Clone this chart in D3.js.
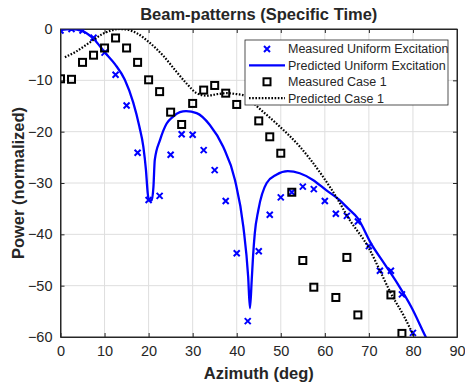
<!DOCTYPE html>
<html>
  <head>
    <meta charset="utf-8">
    <title>Beam-patterns</title>
    <style>
      body { margin: 0; background: #fff; }
      svg text { font-family: "Liberation Sans", Arial, Helvetica, sans-serif; fill: #262626; }
    </style>
  </head>
  <body>
    <script src="https://d3js.org/d3.v7.min.js"></script>
    <svg id="chart" width="465" height="388"></svg>
    <script>
      // measured points, every 2.5 deg
      const measuredAz = d3.range(0, 80.01, 2.5)
      const measuredUniform = [
        -0.3, 0, -0.3, -1.7, -4.6, -8.9, -14.9, -24.1, -33.3, -32.5, -24.5,
        -20.5, -20.6, -23.6, -27.5, -33.5, -43.7, -56.9, -43.3, -36.2, -32.8,
        -31.8, -30.7, -31.2, -33.5, -36.0, -36.4, -37.5, -42.3, -47.1, -47.1,
        -51.7, -59.2
      ]
      // case 1 measurements (some are off the bottom of the plot / missing)
      const case1Az = [0, 2.5, 5, 7.5, 10, 12.5, 15, 17.5, 20, 22.5, 25, 27.5, 30, 32.5, 35, 37.5, 40,
        45, 47.5, 50, 52.5, 55, 57.5, 62.5, 65, 67.5, 75, 77.5]
      const case1Measured = [-9.7, -9.8, -6.5, -5.1, -3.7, -1.75, -3.7, -6.5, -9.9, -12.2, -16.2, -18.6,
        -14.5, -11.9, -11.0, -12.5, -14.7, -17.9, -21.0, -24.2, -31.8, -45.1, -50.3, -52.3, -44.5,
        -55.7, -51.8, -59.3]

      // predicted curves
      const uniformAz = [0, 2.5, 5, 7.5, 10, 12.4, 14.6, 16.5, 17.9, 18.8, 19.4, 19.8, 20.1, 20.7,
        21.1, 21.4, 22.6, 24.1, 25.5, 27.1, 28.5, 30.9, 33.9, 36.9, 39.6, 41.5, 42.6, 43, 43.4, 43.7,
        44.1, 44.9, 46.8, 49, 51.6, 54.3, 57.3, 60.3, 63.3, 65.2, 67.5, 70.5, 73.5, 76.5, 79.6, 82.8, 83.2]
      const uniformPredicted = [-0.2, 0, -0.4, -1.9, -4.5, -6.9, -9.9, -14.3, -19, -22.9, -27.5,
        -32, -33.4, -33.4, -30.7, -25.5, -21.6, -18.4, -17.1, -16.2, -16.0, -16.4, -18.7, -22.9,
        -29.4, -38.5, -48.3, -54.4, -49, -44.4, -39.8, -35.3, -30.0, -28.4, -27.7, -28.1, -29.4,
        -31.4, -33.3, -34.9, -36.9, -41.8, -45.7, -49.6, -54.1, -59.8, -60.5]

      const case1PredAz = [1, 3.5, 6.5, 9.5, 11.5, 13.5, 15.5, 17.5, 20, 23.3, 26.3, 28.6, 30.9,
        33.2, 35.5, 37.8, 40.1, 42, 44.5, 49, 54.3, 59.6, 63, 65.2, 70, 72.8, 75, 78, 79.9, 80.4]
      const case1Predicted = [-5.5, -4.4, -2.7, -1.0, -0.3, 0, -0.2, -0.9, -2.5, -5.2, -8.3, -10.6,
        -12.5, -13.0, -12.7, -12.5, -12.7, -13.0, -15.0, -18.4, -22.9, -28.8, -33.3, -36.6, -42.7,
        -47.6, -51.5, -56, -59.3, -60.2]

      const xTicks = d3.range(0, 91, 10)
      const yTicks = d3.range(-60, 1, 10)

      const legendLabels = ['Measured Uniform Excitation', 'Predicted Uniform Excitation',
        'Measured Case 1', 'Predicted Case 1']

      const svg = d3.select('#chart')
      const plotL = 60.5, plotR = 457, plotT = 29, plotB = 337
      const ink = '#262626'

      const x = d3.scaleLinear().domain([0, 90]).range([plotL, plotR])
      const y = d3.scaleLinear().domain([-60, 0]).range([plotB, plotT])

      svg.append('defs').append('clipPath').attr('id', 'plotclip')
        .append('rect').attr('x', plotL).attr('y', plotT).attr('width', plotR - plotL).attr('height', plotB - plotT)

      // grid
      const grid = svg.append('g').attr('stroke', '#dedede').attr('stroke-width', 1)
      grid.selectAll('.gx').data(xTicks.slice(1, -1)).join('line').attr('class', 'gx')
        .attr('x1', d => x(d)).attr('x2', d => x(d)).attr('y1', plotT).attr('y2', plotB)
      grid.selectAll('.gy').data(yTicks.slice(1, -1)).join('line').attr('class', 'gy')
        .attr('y1', d => y(d)).attr('y2', d => y(d)).attr('x1', plotL).attr('x2', plotR)

      // axes with inward ticks on all four sides
      const tl = 4
      svg.append('g').attr('transform', `translate(0,${plotB})`)
        .call(d3.axisBottom(x).tickValues(xTicks).tickSizeInner(-tl).tickSizeOuter(0).tickPadding(9))
      svg.append('g').attr('transform', `translate(0,${plotT})`)
        .call(d3.axisTop(x).tickValues(xTicks).tickSizeInner(-tl).tickSizeOuter(0).tickFormat(''))
      svg.append('g').attr('transform', `translate(${plotL},0)`)
        .call(d3.axisLeft(y).tickValues(yTicks).tickSizeInner(-tl).tickSizeOuter(0).tickPadding(8))
      svg.append('g').attr('transform', `translate(${plotR},0)`)
        .call(d3.axisRight(y).tickValues(yTicks).tickSizeInner(-tl).tickSizeOuter(0).tickFormat(''))

      svg.selectAll('.domain').attr('stroke', ink)
      svg.selectAll('.tick line').attr('stroke', ink)
      svg.selectAll('.tick text').style('font-size', '14.5px').attr('fill', ink)

      const plot = svg.append('g').attr('clip-path', 'url(#plotclip)')

      const crossPath = s => `M${-s},${-s}L${s},${s}M${-s},${s}L${s},${-s}`

      // measured uniform: blue crosses
      plot.append('g').selectAll('path').data(measuredAz.map((a, i) => [a, measuredUniform[i]])).join('path')
        .attr('transform', d => `translate(${x(d[0])},${y(d[1])})`)
        .attr('d', crossPath(3))
        .attr('stroke', '#0000ff').attr('stroke-width', 2).attr('fill', 'none')

      // predicted uniform: solid blue line
      const line = d3.line().x(d => x(d[0])).y(d => y(d[1])).curve(d3.curveMonotoneX)
      plot.append('path').datum(uniformAz.map((a, i) => [a, uniformPredicted[i]]))
        .attr('d', line)
        .attr('fill', 'none').attr('stroke', '#0000ff').attr('stroke-width', 2.3)

      // measured case 1: black open squares
      plot.append('g').selectAll('rect').data(case1Az.map((a, i) => [a, case1Measured[i]])).join('rect')
        .attr('x', d => x(d[0]) - 3.5).attr('y', d => y(d[1]) - 3.5)
        .attr('width', 7).attr('height', 7)
        .attr('fill', 'none').attr('stroke', '#000').attr('stroke-width', 2)

      // predicted case 1: dotted black line
      plot.append('path').datum(case1PredAz.map((a, i) => [a, case1Predicted[i]]))
        .attr('d', line)
        .attr('fill', 'none').attr('stroke', '#000').attr('stroke-width', 2.2)
        .attr('stroke-dasharray', '1.6,1.6')

      // box on top of the marks
      svg.append('rect').attr('x', plotL).attr('y', plotT).attr('width', plotR - plotL).attr('height', plotB - plotT)
        .attr('fill', 'none').attr('stroke', ink).attr('stroke-width', 1)

      // legend
      const lg = svg.append('g')
      lg.append('rect').attr('x', 245).attr('y', 40).attr('width', 203).attr('height', 65)
        .attr('fill', '#fff').attr('stroke', ink).attr('stroke-width', 0.8)
      const rowY = i => 49 + i * 16.4
      legendLabels.forEach((t, i) => {
        lg.append('text').attr('x', 288).attr('y', rowY(i)).attr('dy', '0.35em')
          .style('font-size', '12.5px').text(t)
      })
      lg.append('path').attr('transform', `translate(267,${rowY(0)})`).attr('d', crossPath(3))
        .attr('stroke', '#0000ff').attr('stroke-width', 2)
      lg.append('line').attr('x1', 249).attr('x2', 285).attr('y1', rowY(1)).attr('y2', rowY(1))
        .attr('stroke', '#0000ff').attr('stroke-width', 2.3)
      lg.append('rect').attr('x', 263.5).attr('y', rowY(2) - 3.5).attr('width', 7).attr('height', 7)
        .attr('fill', 'none').attr('stroke', '#000').attr('stroke-width', 2)
      lg.append('line').attr('x1', 249).attr('x2', 285).attr('y1', rowY(3)).attr('y2', rowY(3))
        .attr('stroke', '#000').attr('stroke-width', 2.2).attr('stroke-dasharray', '1.6,1.6')

      // title and axis labels
      svg.append('text').attr('x', (plotL + plotR) / 2).attr('y', 20).attr('text-anchor', 'middle')
        .style('font-size', '16.5px').style('font-weight', 'bold').text('Beam-patterns (Specific Time)')
      svg.append('text').attr('x', (plotL + plotR) / 2).attr('y', 378.5).attr('text-anchor', 'middle')
        .style('font-size', '16.5px').style('font-weight', 'bold').text('Azimuth (deg)')
      svg.append('text').attr('transform', `translate(24,${(plotT + plotB) / 2}) rotate(-90)`)
        .attr('text-anchor', 'middle')
        .style('font-size', '16.5px').style('font-weight', 'bold').text('Power (normalized)')
    </script>
  </body>
</html>
